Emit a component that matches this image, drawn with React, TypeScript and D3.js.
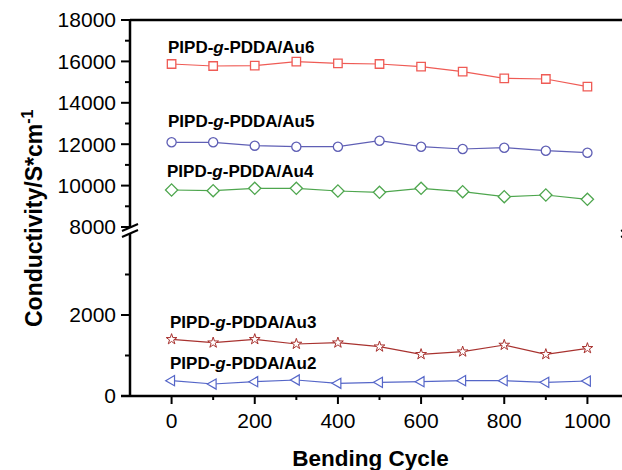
import React from "react";
import * as d3 from "d3";

const cycles = [0, 100, 200, 300, 400, 500, 600, 700, 800, 900, 1000];
const au6 = [15874, 15778, 15792, 15986, 15908, 15874, 15744, 15502, 15184, 15150, 14778];
const au5 = [12092, 12092, 11928, 11879, 11879, 12169, 11879, 11768, 11831, 11686, 11589];
const au4 = [9787, 9754, 9870, 9870, 9739, 9676, 9870, 9705, 9464, 9546, 9338];
const au3 = [1400, 1316, 1400, 1284, 1316, 1217, 1030, 1094, 1259, 1030, 1178];
const au2 = [378, 296, 353, 395, 314, 338, 353, 378, 378, 338, 370];

const xMajor = [0, 200, 400, 600, 800, 1000];
const xMinor = [100, 300, 500, 700, 900];
const yUpMajor = [8000, 10000, 12000, 14000, 16000, 18000];
const yUpMinor = [9000, 11000, 13000, 15000, 17000];
const yLoMajor = [0, 2000];
const yLoMinor = [1000, 3000];

const FONT = "'Liberation Sans', Arial, Helvetica, sans-serif";

export default function App() {
  const x = d3.scaleLinear().domain([-100, 1100]).range([130, 629]);
  const yUp = d3.scaleLinear().domain([8000, 18000]).range([227, 20]);
  const yLo = d3.scaleLinear().domain([0, 4000]).range([396, 234]);

  const series = [
    { name: "Au6", data: au6, y: yUp, color: "#ef5b55", type: d3.symbolSquare, size: 72, rot: 0, sw: 1.3, lx: 168, ly: 53 },
    { name: "Au5", data: au5, y: yUp, color: "#5f5fb5", type: d3.symbolCircle, size: 66, rot: 0, sw: 1.3, lx: 168, ly: 127 },
    { name: "Au4", data: au4, y: yUp, color: "#4ea64e", type: d3.symbolDiamond2, size: 95, rot: 0, sw: 1.3, lx: 167, ly: 177 },
    { name: "Au3", data: au3, y: yLo, color: "#a8322f", type: d3.symbolStar, size: 36, rot: 0, sw: 1.0, lx: 170, ly: 328 },
    { name: "Au2", data: au2, y: yLo, color: "#5566c8", type: d3.symbolTriangle, size: 45, rot: -90, sw: 1.2, lx: 170, ly: 369 },
  ];

  const axisW = 2.5;
  const xBase = 396;
  const xLeft = 130;

  return (
    <svg width={622} height={470} style={{ position: "absolute", left: 0, top: 0, background: "#fff" }} fontFamily={FONT}>
      <rect x={0} y={0} width={622} height={470} fill="#fff" />
      {series.map((s) => {
        const line = d3
          .line<number>()
          .x((_, i) => x(cycles[i]))
          .y((d) => s.y(d));
        const sym = d3.symbol().type(s.type).size(s.size)();
        return (
          <g key={s.name}>
            <path d={line(s.data) || ""} fill="none" stroke={s.color} strokeWidth={1.2} />
            {s.data.map((d, i) => (
              <path
                key={i}
                d={sym || ""}
                transform={`translate(${x(cycles[i])},${s.y(d)}) rotate(${s.rot})`}
                fill="#fff"
                stroke={s.color}
                strokeWidth={s.sw}
              />
            ))}
            <text x={s.lx} y={s.ly} fontSize={17} fontWeight="bold" fill="#000">
              PIPD-<tspan fontStyle="italic">g</tspan>-PDDA/{s.name}
            </text>
          </g>
        );
      })}

      <line x1={xLeft} x2={640} y1={20} y2={20} stroke="#000" strokeWidth={axisW} />
      <line x1={xLeft} x2={xLeft} y1={20} y2={228} stroke="#000" strokeWidth={axisW} />
      <line x1={xLeft} x2={xLeft} y1={234} y2={xBase} stroke="#000" strokeWidth={axisW} />
      <line x1={x(1100)} x2={x(1100)} y1={20} y2={228} stroke="#000" strokeWidth={axisW} />
      <line x1={x(1100)} x2={x(1100)} y1={234} y2={xBase} stroke="#000" strokeWidth={axisW} />
      {[xLeft, x(1100)].map((bx, i) => (
        <g key={i} stroke="#000" strokeWidth={2}>
          <line x1={bx - 8} y1={231} x2={bx + 8} y2={224} />
          <line x1={bx - 8} y1={237} x2={bx + 8} y2={230} />
        </g>
      ))}
      <line x1={xLeft - 9} x2={640} y1={xBase} y2={xBase} stroke="#000" strokeWidth={axisW} />
      {xMajor.map((v) => (
        <g key={"xm" + v}>
          <line x1={x(v)} x2={x(v)} y1={xBase} y2={xBase + 8} stroke="#000" strokeWidth={2} />
          <text x={x(v)} y={428} textAnchor="middle" fontSize={21} fill="#000">
            {v}
          </text>
        </g>
      ))}
      {xMinor.map((v) => (
        <line key={"xn" + v} x1={x(v)} x2={x(v)} y1={xBase} y2={xBase + 4} stroke="#000" strokeWidth={2} />
      ))}
      {yUpMajor.map((v) => (
        <g key={"yu" + v}>
          <line x1={xLeft - 9} x2={xLeft} y1={yUp(v)} y2={yUp(v)} stroke="#000" strokeWidth={2} />
          <text x={116} y={yUp(v)} dy="0.35em" textAnchor="end" fontSize={21} fill="#000">
            {v}
          </text>
        </g>
      ))}
      {yUpMinor.map((v) => (
        <line key={"yun" + v} x1={xLeft - 5} x2={xLeft} y1={yUp(v)} y2={yUp(v)} stroke="#000" strokeWidth={2} />
      ))}
      {yLoMajor.map((v) => (
        <g key={"yl" + v}>
          <line x1={xLeft - 9} x2={xLeft} y1={yLo(v)} y2={yLo(v)} stroke="#000" strokeWidth={2} />
          <text x={116} y={yLo(v)} dy="0.35em" textAnchor="end" fontSize={21} fill="#000">
            {v}
          </text>
        </g>
      ))}
      {yLoMinor.map((v) => (
        <line key={"yln" + v} x1={xLeft - 5} x2={xLeft} y1={yLo(v)} y2={yLo(v)} stroke="#000" strokeWidth={2} />
      ))}
      <text x={370.5} y={466} textAnchor="middle" fontSize={22.5} fontWeight="bold" fill="#000">
        Bending Cycle
      </text>
      <text transform="translate(42,327) rotate(-90)" fontSize={23} fontWeight="bold" fill="#000">
        Conductivity/S*cm
        <tspan dy={-9} fontSize={16}>-1</tspan>
      </text>
    </svg>
  );
}
